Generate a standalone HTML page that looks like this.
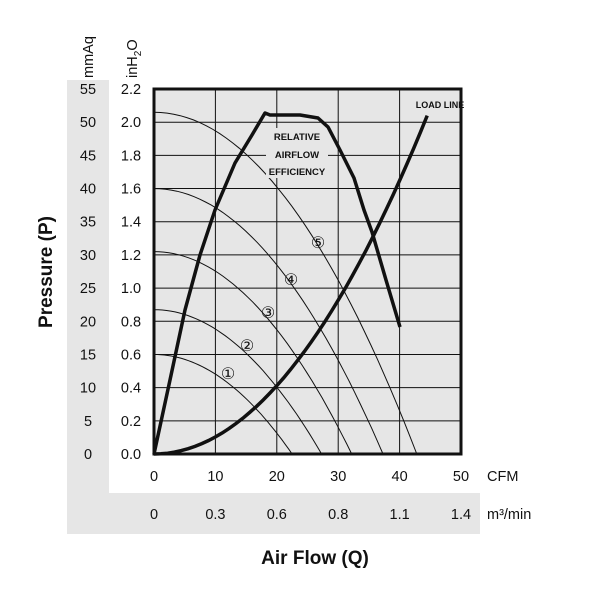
<!DOCTYPE html>
<html><head><meta charset="utf-8"><style>
body{margin:0;background:#fff;}
svg text{font-family:"Liberation Sans Narrow","Liberation Sans",sans-serif;fill:#111;}
</style></head><body>
<svg id="s" width="607" height="600" xmlns="http://www.w3.org/2000/svg">
<rect x="67" y="80" width="42" height="454" fill="#e6e6e6"/>
<rect x="67" y="493" width="413" height="41" fill="#e6e6e6"/>
<rect x="154" y="89" width="307" height="365" fill="#e6e6e6"/>
<g id="grid" stroke="#111" stroke-width="1"></g>
<g id="curves" fill="none" stroke="#111" stroke-width="1"></g>
<rect x="266" y="128" width="62" height="50" fill="#e6e6e6"/>
<path id="load" fill="none" stroke="#111" stroke-width="3.5"/>
<path fill="none" stroke="#111" stroke-width="3.5" stroke-linejoin="round" d="M154,454 L170,380 L185,310 L200,255 L215,210 L235,163 L252,135 L265,113 L270,115 L300,115 L318,118 L328,127 L340,150 L354,178 L364,210 L372,232 L386,280 L400,327"/>
<rect x="154" y="89" width="307" height="365" fill="none" stroke="#111" stroke-width="3"/>
<g font-size="9.5" font-weight="bold" text-anchor="middle">
<text x="297" y="140">RELATIVE</text>
<text x="297" y="158">AIRFLOW</text>
<text x="297" y="175">EFFICIENCY</text>
<text x="440" y="108" font-size="9">LOAD LINE</text>
</g>
<g font-size="16" text-anchor="middle">
<text x="228" y="379">①</text><text x="247" y="351">②</text><text x="268" y="318">③</text><text x="291" y="285">④</text><text x="318" y="248">⑤</text>
</g>
<g id="lab" font-size="14.5"></g>
<text transform="translate(93,78) rotate(-90)" font-size="14.5">mmAq</text>
<text transform="translate(137,78) rotate(-90)" font-size="14.5">inH<tspan font-size="10" dy="4">2</tspan><tspan dy="-4">O</tspan></text>
<text transform="translate(52,272) rotate(-90)" font-size="19" font-weight="bold" text-anchor="middle">Pressure (P)</text>
<text x="315" y="564" font-size="19" font-weight="bold" text-anchor="middle">Air Flow (Q)</text>
<text x="487" y="481" font-size="14.5">CFM</text>
<text x="487" y="519" font-size="14.5">m³/min</text>
</svg>
<script>
var X=q=>154+q*6.14, Y=p=>454-p*165.9;
var g=document.getElementById('grid'),h='';
for(var i=1;i<5;i++)h+='<line x1="'+X(i*10)+'" y1="89" x2="'+X(i*10)+'" y2="454"/>';
for(var j=1;j<11;j++)h+='<line x1="154" y1="'+Y(j*.2)+'" x2="461" y2="'+Y(j*.2)+'"/>';
g.innerHTML=h;
var cs=[[0.6,22.5],[0.87,27.3],[1.22,32.2],[1.6,37.3],[2.06,42.8]],c='';
cs.forEach(function(a){var d='';for(var k=0;k<=40;k++){var q=a[1]*k/40,p=a[0]*(1-Math.pow(q/a[1],2));d+=(k?'L':'M')+X(q).toFixed(1)+','+Y(p).toFixed(1);}c+='<path d="'+d+'"/>';});
document.getElementById('curves').innerHTML=c;
var d='';for(var k=0;k<=40;k++){var q=44.5*k/40;d+=(k?'L':'M')+X(q).toFixed(1)+','+Y(0.00103*q*q).toFixed(1);}
document.getElementById('load').setAttribute('d',d);
var l='',mm=[0,5,10,15,20,25,30,35,40,45,50,55],ih=['0.0','0.2','0.4','0.6','0.8','1.0','1.2','1.4','1.6','1.8','2.0','2.2'];
for(var j=0;j<12;j++){var y=Y(j*.2)+5;l+='<text x="88" y="'+y+'" text-anchor="middle">'+mm[j]+'</text><text x="131" y="'+y+'" text-anchor="middle">'+ih[j]+'</text>';}
var m=['0','0.3','0.6','0.8','1.1','1.4'];
for(var i=0;i<6;i++){l+='<text x="'+X(i*10)+'" y="481" text-anchor="middle">'+(i*10)+'</text><text x="'+X(i*10)+'" y="519" text-anchor="middle">'+m[i]+'</text>';}
document.getElementById('lab').innerHTML=l;
</script>
</body></html>
